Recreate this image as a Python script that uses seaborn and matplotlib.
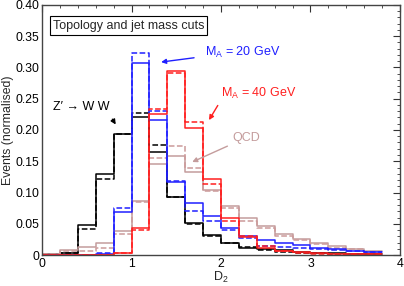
import numpy as np
import pandas as pd
import matplotlib
matplotlib.use("Agg")
import matplotlib.pyplot as plt
import seaborn as sns
from matplotlib.ticker import MultipleLocator, FuncFormatter

# ---- data ----
bin_edges = [0.0, 0.2, 0.4, 0.6, 0.8, 1.0, 1.2, 1.4, 1.6, 1.8, 2.0,
             2.2, 2.4, 2.6, 2.8, 3.0, 3.2, 3.4, 3.6, 3.8]

zww_solid = [0.001, 0.004, 0.048, 0.130, 0.194, 0.221, 0.165, 0.093, 0.052, 0.032,
             0.020, 0.012, 0.010, 0.008, 0.005, 0.004, 0.003, 0.002, 0.001]
zww_dash = [0.001, 0.003, 0.042, 0.122, 0.194, 0.227, 0.176, 0.093, 0.050, 0.031,
            0.019, 0.013, 0.008, 0.005, 0.004, 0.003, 0.002, 0.001, 0.001]

ma20_solid = [0.0, 0.0, 0.0, 0.002, 0.069, 0.307, 0.216, 0.117, 0.083, 0.062,
              0.043, 0.030, 0.024, 0.019, 0.016, 0.011, 0.009, 0.007, 0.005]
ma20_dash = [0.0, 0.0, 0.0, 0.003, 0.076, 0.323, 0.230, 0.118, 0.071, 0.055,
             0.040, 0.027, 0.015, 0.013, 0.012, 0.010, 0.008, 0.006, 0.005]

ma40_solid = [0.0, 0.0, 0.0, 0.0, 0.004, 0.043, 0.225, 0.294, 0.203, 0.121,
              0.060, 0.029, 0.012, 0.007, 0.005, 0.003, 0.002, 0.001, 0.001]
ma40_dash = [0.0, 0.0, 0.0, 0.0, 0.003, 0.040, 0.233, 0.291, 0.213, 0.113,
             0.055, 0.031, 0.014, 0.006, 0.004, 0.002, 0.002, 0.001, 0.001]

qcd_solid = [0.001, 0.008, 0.013, 0.020, 0.038, 0.086, 0.145, 0.158, 0.133, 0.104,
             0.078, 0.060, 0.046, 0.033, 0.025, 0.019, 0.015, 0.010, 0.006]
qcd_dash = [0.001, 0.006, 0.007, 0.012, 0.034, 0.085, 0.155, 0.174, 0.140, 0.102,
            0.076, 0.055, 0.044, 0.030, 0.024, 0.017, 0.012, 0.009, 0.005]

xticks = [0, 1, 2, 3, 4]
yticks = [0.0, 0.05, 0.10, 0.15, 0.20, 0.25, 0.30, 0.35, 0.40]

# ---- style ----
sns.set_style("white")
plt.rcParams['font.family'] = ['Liberation Sans', 'DejaVu Sans']
plt.rcParams['mathtext.fontset'] = 'custom'
plt.rcParams['mathtext.rm'] = 'Liberation Sans'
plt.rcParams['mathtext.it'] = 'Liberation Sans'

c_black = "#000000"
c_blue = "#1f1fff"
c_red = "#ff1f1f"
c_qcd = "#c49c9c"
c_qcd_d = "#cc9a9a"

fig = plt.figure(figsize=(4.04, 2.86), dpi=100)
ax = fig.add_axes([0.104, 0.108, 0.886, 0.875])

centers = [(bin_edges[i] + bin_edges[i + 1]) / 2 for i in range(len(bin_edges) - 1)]

series = [
    (zww_solid, c_black, "-"), (zww_dash, c_black, "--"),
    (qcd_solid, c_qcd, "-"), (qcd_dash, c_qcd_d, "--"),
    (ma20_solid, c_blue, "-"), (ma20_dash, c_blue, "--"),
    (ma40_solid, c_red, "-"), (ma40_dash, c_red, "--"),
]
for vals, col, ls in series:
    df = pd.DataFrame({"x": centers, "w": vals})
    sns.histplot(data=df, x="x", weights="w", bins=bin_edges, element="step",
                 fill=False, color=col, linestyle=ls, linewidth=1.1, ax=ax)

ax.set_xlim(0, 4)
ax.set_ylim(0, 0.40)
ax.set_xticks(xticks)
ax.set_yticks(yticks)
ax.xaxis.set_minor_locator(MultipleLocator(0.2))
ax.yaxis.set_minor_locator(MultipleLocator(0.01))
ax.yaxis.set_major_formatter(FuncFormatter(lambda v, p: "0" if abs(v) < 1e-9 else f"{v:.2f}"))
ax.tick_params(which="both", direction="in", top=True, right=True, colors="#333333",
               labelcolor="black", labelsize=8.8)
ax.tick_params(which="major", length=5, width=0.8, pad=2)
ax.tick_params(which="minor", length=2.5, width=0.6)
for s in ax.spines.values():
    s.set_color("#444444")
    s.set_linewidth(1.0)

ax.set_xlabel("D$_2$", fontsize=9)
ax.xaxis.set_label_coords(0.5, -0.058)
ax.set_ylabel("Events (normalised)", fontsize=8.8)
ax.yaxis.set_label_coords(-0.078, 0.5)

ax.text(0.12, 0.367, "Topology and jet mass cuts", fontsize=9, va="center", ha="left",
        bbox=dict(boxstyle="square,pad=0.25", fc="white", ec="black", lw=0.8))

ax.text(1.82, 0.324, "M$_\\mathregular{A}$ = 20 GeV", color=c_blue, fontsize=9, va="center")
ax.annotate("", xy=(1.30, 0.308), xytext=(1.73, 0.316),
            arrowprops=dict(arrowstyle="-|>", color=c_blue, lw=1.0, mutation_scale=7))

ax.text(2.0, 0.259, "M$_\\mathregular{A}$ = 40 GeV", color=c_red, fontsize=9, va="center")
ax.annotate("", xy=(1.85, 0.212), xytext=(1.98, 0.243),
            arrowprops=dict(arrowstyle="-|>", color=c_red, lw=1.0, mutation_scale=7))

ax.text(2.13, 0.187, "QCD", color=c_qcd, fontsize=9, va="center")
ax.annotate("", xy=(1.65, 0.147), xytext=(2.10, 0.176),
            arrowprops=dict(arrowstyle="-|>", color=c_qcd, lw=1.0, mutation_scale=7))

ax.text(0.12, 0.236, "Z\u2032 \u2192 W W", color="black", fontsize=9, va="center")
ax.annotate("", xy=(0.84, 0.205), xytext=(0.77, 0.221),
            arrowprops=dict(arrowstyle="-|>", color="black", lw=1.0, mutation_scale=7))

fig.savefig("out.png", dpi=100)
